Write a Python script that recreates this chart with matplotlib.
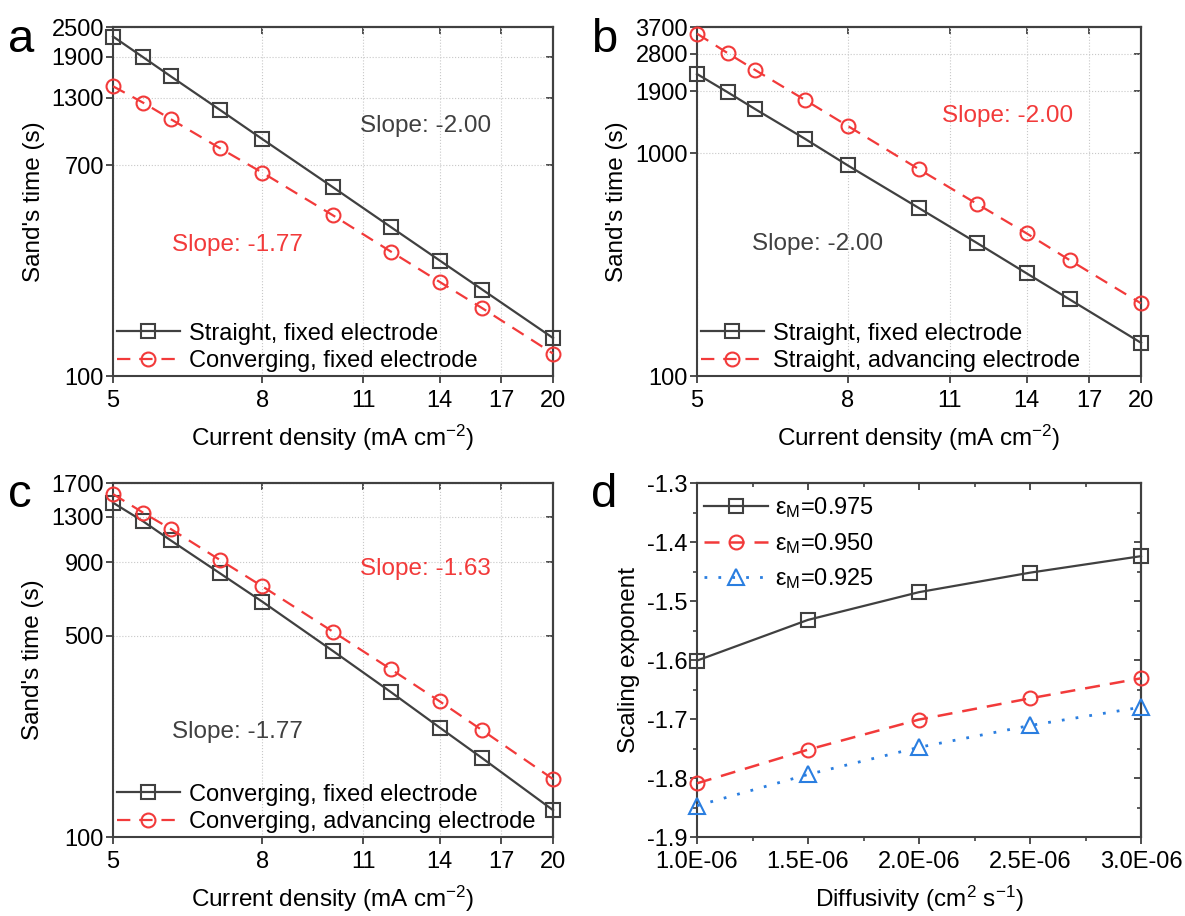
import matplotlib
matplotlib.use("Agg")
import matplotlib.pyplot as plt
from matplotlib.ticker import NullLocator, AutoMinorLocator

plt.rcParams['font.family'] = ['Liberation Sans', 'DejaVu Sans']
plt.rcParams['mathtext.fontset'] = 'custom'
plt.rcParams['mathtext.rm'] = 'Liberation Sans'
plt.rcParams['mathtext.it'] = 'Liberation Sans:italic'
plt.rcParams['axes.linewidth'] = 1.5

# data
current = [5, 5.5, 6, 7, 8, 10, 12, 14, 16, 20]

a_straight_fixed = [2290, 1890, 1585, 1165, 890, 570, 395, 290, 222, 142]
a_conv_fixed = [1447, 1243, 1068, 818, 653, 440, 315, 238, 187, 123]

b_straight_fixed = [2275, 1885, 1580, 1165, 885, 568, 395, 289, 221, 141]
b_straight_adv = [3455, 2826, 2367, 1742, 1331, 849, 592, 437, 332, 212]

c_conv_fixed = [1452, 1250, 1073, 826, 658, 443, 319, 240, 188, 124]
c_conv_adv = [1556, 1340, 1176, 919, 744, 517, 383, 296, 235, 159]

diffusivity = [1.0e-6, 1.5e-6, 2.0e-6, 2.5e-6, 3.0e-6]
exp_975 = [-1.601, -1.532, -1.485, -1.452, -1.424]
exp_950 = [-1.809, -1.752, -1.701, -1.665, -1.631]
exp_925 = [-1.847, -1.794, -1.748, -1.711, -1.680]

x_ticks = [5, 8, 11, 14, 17, 20]
a_yticks = [100, 700, 1300, 1900, 2500]
b_yticks = [100, 1000, 1900, 2800, 3700]
c_yticks = [100, 500, 900, 1300, 1700]
d_xticks = [1.0e-6, 1.5e-6, 2.0e-6, 2.5e-6, 3.0e-6]
d_xlabels = ["1.0E-06", "1.5E-06", "2.0E-06", "2.5E-06", "3.0E-06"]
d_yticks = [-1.9, -1.8, -1.7, -1.6, -1.5, -1.4, -1.3]

DARK = '#404040'
RED = '#f23a3a'
BLUE = '#2a7ee0'
FS = 17
W, H = 1185, 916

fig = plt.figure(figsize=(W / 100, H / 100), dpi=100)


def box(l, t, r, b):
    return [l / W, 1 - b / H, (r - l) / W, (b - t) / H]


def mirror_ticks(ax, xt, yt, minor=False):
    top = ax.secondary_xaxis('top')
    right = ax.secondary_yaxis('right')
    top.set_xticks(xt)
    top.set_xticklabels([])
    right.set_yticks(yt)
    right.set_yticklabels([])
    for s in (top, right):
        s.tick_params(which='major', direction='in', length=5, width=1.3, color=DARK)
        s.tick_params(which='minor', direction='in', length=3, width=1.2, color=DARK)
    if minor:
        top.xaxis.set_minor_locator(AutoMinorLocator(2))
        right.yaxis.set_minor_locator(AutoMinorLocator(2))
    else:
        top.xaxis.set_minor_locator(NullLocator())
        right.yaxis.set_minor_locator(NullLocator())


def style(ax):
    for s in ax.spines.values():
        s.set_color(DARK)
    ax.tick_params(which='major', direction='out', length=5, width=1.3, color=DARK,
                   labelsize=FS)
    ax.tick_params(which='minor', direction='out', length=3, width=1.2, color=DARK)
    ax.tick_params(axis='x', pad=5)
    ax.tick_params(axis='y', pad=1.5)


def sand_panel(ax, s1, s2, lab1, lab2, yticks):
    ax.set_xscale('log')
    ax.set_yscale('log')
    ax.plot(current, s1, color=DARK, lw=1.6, marker='s', ms=9.5, mfc='none',
            mec=DARK, mew=1.5, label=lab1, clip_on=False, zorder=3)
    ax.plot(current, s2, color=RED, lw=1.6, ls=(0, (6, 4)), marker='o', ms=10,
            mfc='none', mec=RED, mew=1.5, label=lab2, clip_on=False, zorder=3)
    ax.set_xlim(5, 20)
    ax.set_ylim(yticks[0], yticks[-1])
    ax.set_xticks(x_ticks)
    ax.set_xticklabels([str(v) for v in x_ticks])
    ax.set_yticks(yticks)
    ax.set_yticklabels([str(v) for v in yticks])
    ax.xaxis.set_minor_locator(NullLocator())
    ax.yaxis.set_minor_locator(NullLocator())
    ax.grid(True, which='major', ls=':', color='#c8c8c8', lw=0.8)
    style(ax)
    mirror_ticks(ax, x_ticks, yticks)
    ax.set_xlabel(r"Current density (mA cm$^{\mathregular{-2}}$)", fontsize=FS + 0.5, labelpad=8)
    ax.set_ylabel("Sand's time (s)", fontsize=FS + 0.5, labelpad=5)
    ax.legend(loc='lower left', bbox_to_anchor=(0.0, 0.0), frameon=False, fontsize=FS,
              handlelength=2.7, handletextpad=0.35, labelspacing=0.25,
              borderpad=0.15, borderaxespad=0.0)


ax_a = fig.add_axes(box(113, 27, 553, 376))
sand_panel(ax_a, a_straight_fixed, a_conv_fixed, "Straight, fixed electrode",
           "Converging, fixed electrode", a_yticks)

ax_b = fig.add_axes(box(697, 27, 1141, 376))
sand_panel(ax_b, b_straight_fixed, b_straight_adv, "Straight, fixed electrode",
           "Straight, advancing electrode", b_yticks)

ax_c = fig.add_axes(box(113, 483, 553, 837))
sand_panel(ax_c, c_conv_fixed, c_conv_adv, "Converging, fixed electrode",
           "Converging, advancing electrode", c_yticks)

ax_d = fig.add_axes(box(697, 483, 1141, 837))
ax_d.plot(diffusivity, exp_975, color=DARK, lw=1.6, marker='s', ms=9.5, mfc='none',
          mec=DARK, mew=1.5, label=r"$\mathregular{\epsilon_M}$=0.975", clip_on=False, zorder=3)
ax_d.plot(diffusivity, exp_950, color=RED, lw=1.8, ls=(0, (6, 4)), marker='o', ms=10,
          mfc='none', mec=RED, mew=1.5, label=r"$\mathregular{\epsilon_M}$=0.950", clip_on=False, zorder=3)
ax_d.plot(diffusivity, exp_925, color=BLUE, lw=2.0, ls=(0, (1, 4)), marker='^', ms=11,
          mfc='none', mec=BLUE, mew=1.5, label=r"$\mathregular{\epsilon_M}$=0.925", clip_on=False, zorder=3)
ax_d.set_xlim(1.0e-6, 3.0e-6)
ax_d.set_ylim(-1.9, -1.3)
ax_d.set_xticks(d_xticks)
ax_d.set_xticklabels(d_xlabels)
ax_d.set_yticks(d_yticks)
ax_d.set_yticklabels([f"{v:.1f}" for v in d_yticks])
ax_d.xaxis.set_minor_locator(AutoMinorLocator(2))
ax_d.yaxis.set_minor_locator(AutoMinorLocator(2))
style(ax_d)
mirror_ticks(ax_d, d_xticks, d_yticks, minor=True)
ax_d.set_xlabel(r"Diffusivity (cm$^{\mathregular{2}}$ s$^{\mathregular{-1}}$)", fontsize=FS + 0.5, labelpad=8)
ax_d.set_ylabel("Scaling exponent", fontsize=FS + 0.5, labelpad=5)
ax_d.legend(loc='upper left', bbox_to_anchor=(0.0, 0.985), frameon=False, fontsize=FS,
            handlelength=2.7, handletextpad=0.3, labelspacing=0.45, borderpad=0.3,
            borderaxespad=0.0)

# slope annotations
slopes = [
    (360, 126, "Slope: -2.00", DARK),
    (172, 245, "Slope: -1.77", RED),
    (942, 116, "Slope: -2.00", RED),
    (752, 244, "Slope: -2.00", DARK),
    (360, 569, "Slope: -1.63", RED),
    (172, 732, "Slope: -1.77", DARK),
]
for x, y, s, c in slopes:
    fig.text(x / W, 1 - y / H, s, color=c, fontsize=FS + 0.5, ha='left', va='center')

for x, y, s in [(8, 40, 'a'), (591, 40, 'b'), (8, 495, 'c'), (591, 495, 'd')]:
    fig.text(x / W, 1 - y / H, s, fontsize=34, ha='left', va='center')

fig.savefig("out.png", dpi=100)
